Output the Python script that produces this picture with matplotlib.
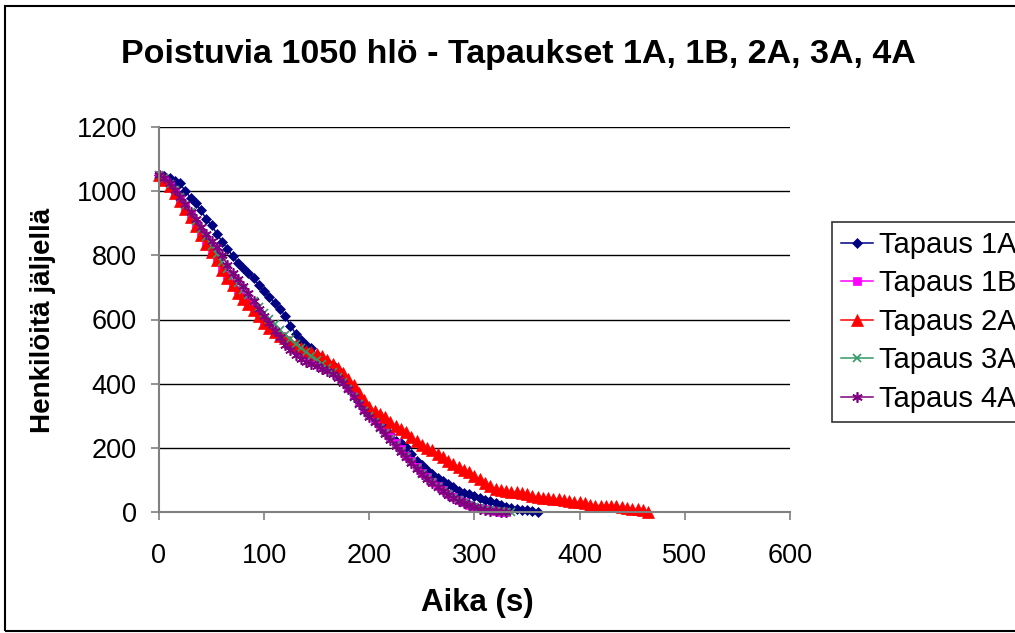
import matplotlib
matplotlib.use("Agg")
import matplotlib.pyplot as plt
from matplotlib.patches import Rectangle

# ---------------- data ----------------
step = 5
tapaus_1a = [1050, 1047, 1042, 1033, 1024, 1000, 980, 962, 940, 912, 893, 868, 842, 820, 798,
             777, 760, 745, 728, 708, 688, 670, 650, 632, 612, 580, 556, 535, 522, 511, 490,
             477, 467, 457, 442, 420, 395, 370, 350, 330, 312, 296, 282, 262, 242, 222, 215,
             203, 180, 160, 145, 132, 120, 105, 96, 88, 77, 67, 60, 55, 50, 45, 38, 33, 28,
             21, 16, 12, 9, 7, 5, 3, 0]
tapaus_1b = [1050, 1038, 1018, 998, 975, 950, 925, 898, 870, 843, 815, 790, 762, 738, 715,
             692, 672, 655, 638, 620, 600, 582, 565, 550, 535, 520, 508, 498, 488, 478, 468,
             458, 448, 436, 425, 408, 388, 365, 345, 322, 305, 288, 272, 254, 234, 215, 195,
             176, 158, 140, 122, 108, 94, 80, 68, 57, 47, 38, 30, 23, 17, 12, 8, 5, 3, 1, 0]
tapaus_2a = [1050, 1035, 1015, 995, 970, 945, 920, 892, 862, 835, 810, 785, 755, 730, 708,
             684, 665, 648, 630, 612, 588, 572, 560, 550, 542, 530, 522, 512, 503, 498, 492,
             485, 475, 462, 448, 432, 415, 395, 372, 348, 328, 316, 306, 296, 282, 268, 258,
             250, 235, 220, 210, 199, 192, 180, 170, 160, 150, 140, 130, 125, 112, 102, 90,
             80, 73, 69, 67, 63, 62, 58, 55, 50, 47, 45, 43, 42, 40, 37, 33, 32, 30, 27, 22,
             20, 20, 20, 20, 18, 16, 13, 10, 8, 5, 0]
tapaus_3a = [1050, 1040, 1022, 1003, 982, 958, 934, 908, 882, 856, 830, 805, 780, 757, 735,
             713, 693, 675, 658, 640, 620, 603, 585, 568, 552, 538, 523, 510, 498, 486, 474,
             462, 450, 437, 422, 404, 383, 360, 338, 316, 298, 280, 263, 245, 227, 208, 190,
             172, 155, 137, 120, 105, 92, 78, 66, 55, 45, 37, 29, 22, 16, 11, 7, 5, 3, 2, 1, 0]
tapaus_4a = [1050, 1042, 1025, 1005, 983, 960, 936, 912, 888, 865, 845, 825, 800, 770, 745,
             725, 705, 682, 658, 632, 610, 590, 565, 545, 522, 505, 488, 478, 468, 460, 454,
             447, 440, 430, 418, 402, 382, 360, 338, 316, 297, 280, 262, 244, 225, 207, 188,
             170, 152, 134, 118, 103, 90, 77, 65, 54, 44, 35, 28, 21, 15, 10, 6, 4, 2, 1, 0]

series_names = ["Tapaus 1A", "Tapaus 1B", "Tapaus 2A", "Tapaus 3A", "Tapaus 4A"]
series_values = [tapaus_1a, tapaus_1b, tapaus_2a, tapaus_3a, tapaus_4a]
x_ticks = [0, 100, 200, 300, 400, 500, 600]
y_ticks = [0, 200, 400, 600, 800, 1000, 1200]

title = "Poistuvia 1050 hlö - Tapaukset 1A, 1B, 2A, 3A, 4A"
x_label = "Aika (s)"
y_label = "Henkilöitä jäljellä"

# ---------------- styles ----------------
colors = ["#000080", "#FF00FF", "#FF0000", "#339966", "#800080"]
markers = ["D", "s", "^", "x", (6, 2, 0)]
msizes = [5.5, 5.2, 8, 6, 7.5]

plt.rcParams['font.family'] = ['Liberation Sans', 'DejaVu Sans']

W, H = 1015, 633
fig = plt.figure(figsize=(W / 100, H / 100), dpi=100)
fig.patch.set_facecolor("white")

# plot area in pixels: x 159..790, y 127..512
ax = fig.add_axes([159 / W, 1 - 512 / H, (790 - 159) / W, (512 - 127) / H])

for name, vals, c, m, ms in zip(series_names, series_values, colors, markers, msizes):
    t = [i * step for i in range(len(vals))]
    ax.plot(t, vals, color=c, marker=m, markersize=ms, lw=1.1, label=name,
            markeredgewidth=1.2 if (m == "x" or isinstance(m, tuple)) else 0.5,
            markeredgecolor=c, clip_on=False)

ax.set_xlim(0, 600)
ax.set_ylim(0, 1200)
ax.set_xticks(x_ticks)
ax.set_yticks(y_ticks)
ax.yaxis.grid(True, color="black", lw=1.0)
ax.set_axisbelow(True)
for s in ["top", "right"]:
    ax.spines[s].set_visible(False)
ax.spines["left"].set_color("#808080")
ax.spines["bottom"].set_color("#808080")
ax.spines["left"].set_linewidth(1.5)
ax.spines["bottom"].set_linewidth(1.5)
ax.tick_params(axis="both", direction="out", length=6, width=1.2, color="#808080",
               labelsize=19.5)
ax.tick_params(axis="y", pad=10)
ax.tick_params(axis="x", pad=16)

ax.set_xlabel(x_label, fontsize=22.5, fontweight="bold")
ax.xaxis.set_label_coords((477 - 159) / 631, (512 - 603) / 385)
ax.xaxis.label.set_va("center")
ax.set_ylabel(y_label, fontsize=20, fontweight="bold")
ax.yaxis.set_label_coords((43 - 159) / 631, (512 - 320) / 385)
ax.yaxis.label.set_va("center")

fig.text(518 / W, 1 - 55 / H, title, ha="center", va="center", fontsize=24.5, fontweight="bold")

leg = fig.legend(loc="upper left", bbox_to_anchor=(832 / W, 1 - 222 / H), fontsize=21,
                 frameon=True, fancybox=False, edgecolor="black", handlelength=1.1,
                 handletextpad=0.2, labelspacing=0.36, borderpad=0.3, borderaxespad=0)
leg.get_frame().set_linewidth(1.2)

# outer chart border
fig.patches.append(Rectangle((5 / W, 2 / H), 1.2, 1 - 8 / H, transform=fig.transFigure,
                             fill=False, edgecolor="black", lw=1.5))

fig.savefig("out.png", dpi=100)
